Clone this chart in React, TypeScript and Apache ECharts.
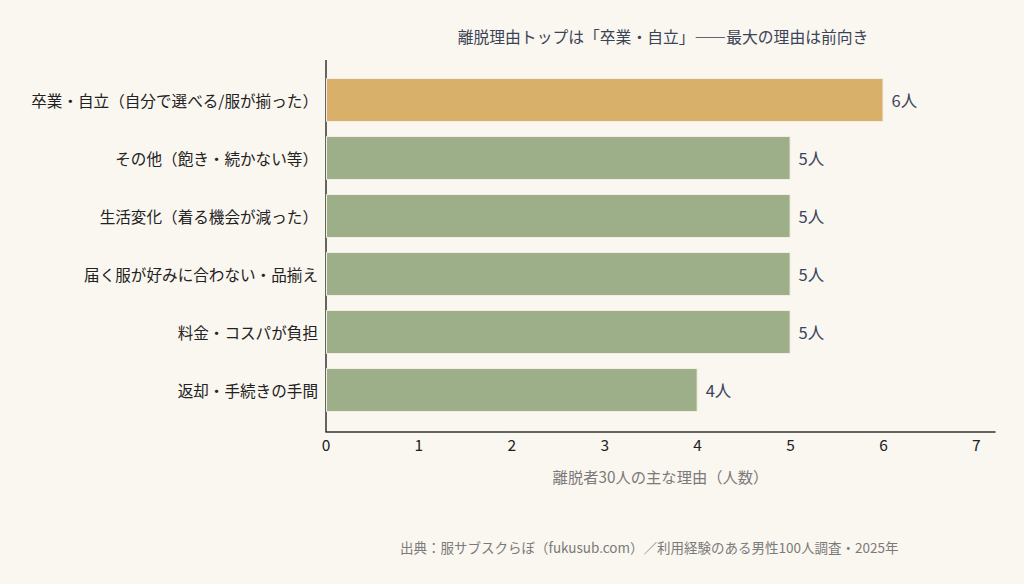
import React, { useEffect, useRef } from "react";
import * as echarts from "echarts";

const categories = [
  "卒業・自立（自分で選べる/服が揃った）",
  "その他（飽き・続かない等）",
  "生活変化（着る機会が減った）",
  "届く服が好みに合わない・品揃え",
  "料金・コスパが負担",
  "返却・手続きの手間",
];
const counts = [6, 5, 5, 5, 5, 4];
const highlightIndex = 0;
const titleText = "離脱理由トップは「卒業・自立」――最大の理由は前向き";
const xAxisName = "離脱者30人の主な理由（人数）";
const sourceText = "出典：服サブスクらぼ（fukusub.com）／利用経験のある男性100人調査・2025年";

const FONT = "'Noto Sans CJK JP', 'Noto Sans', sans-serif";

export default function App() {
  const ref = useRef<HTMLDivElement>(null);
  useEffect(() => {
    if (!ref.current) return;
    const chart = echarts.init(ref.current, null, { renderer: "svg" });
    chart.setOption({
      animation: false,
      backgroundColor: "#FAF6F0",
      textStyle: { fontFamily: FONT },
      title: {
        text: titleText,
        left: 658,
        top: 24,
        textAlign: "center",
        textStyle: { fontSize: 15.8, fontWeight: "normal", color: "#3B4456", fontFamily: FONT },
      },
      grid: { left: 326, right: 29, top: 71, bottom: 165 },
      xAxis: {
        type: "value",
        min: 0,
        max: 7.2,
        interval: 1,
        offset: 13,
        splitLine: { show: false },
        axisTick: { show: false },
        axisLine: { show: true, lineStyle: { color: "#333", width: 1.5 } },
        axisLabel: { showMaxLabel: false, color: "#222", fontSize: 15.5, margin: 4, fontFamily: FONT },
        name: xAxisName,
        nameLocation: "middle",
        nameGap: 36,
        nameTextStyle: { color: "#7A7A7A", fontSize: 15.3, fontFamily: FONT },
      },
      yAxis: {
        type: "category",
        data: categories,
        inverse: true,
        axisLine: { show: false },
        axisTick: { show: false },
        axisLabel: { color: "#222", fontSize: 15.6, margin: 8, fontFamily: FONT },
      },
      graphic: [
        {
          type: "line",
          shape: { x1: 326, y1: 60, x2: 326, y2: 432 },
          style: { stroke: "#333", lineWidth: 1.5 },
        },
        {
          type: "text",
          left: 400,
          top: 540,
          style: { text: sourceText, fill: "#7A7A7A", fontSize: 13.5, fontFamily: FONT },
        },
      ],
      series: [
        {
          type: "bar",
          barWidth: 44,
          data: counts.map((v, i) => ({
            value: v,
            itemStyle: { color: i === highlightIndex ? "#D8B06A" : "#9DAF88" },
          })),
          itemStyle: { borderColor: "#F3EEE4", borderWidth: 1 },
          label: {
            show: true,
            position: "right",
            distance: 8,
            formatter: (p: any) => `${p.value}人`,
            color: "#3A4560",
            fontSize: 16.5,
            fontFamily: FONT,
          },
        },
      ],
    });
    return () => chart.dispose();
  }, []);
  return <div ref={ref} style={{ width: 1024, height: 584, position: "absolute", left: 0, top: 0 }} />;
}
